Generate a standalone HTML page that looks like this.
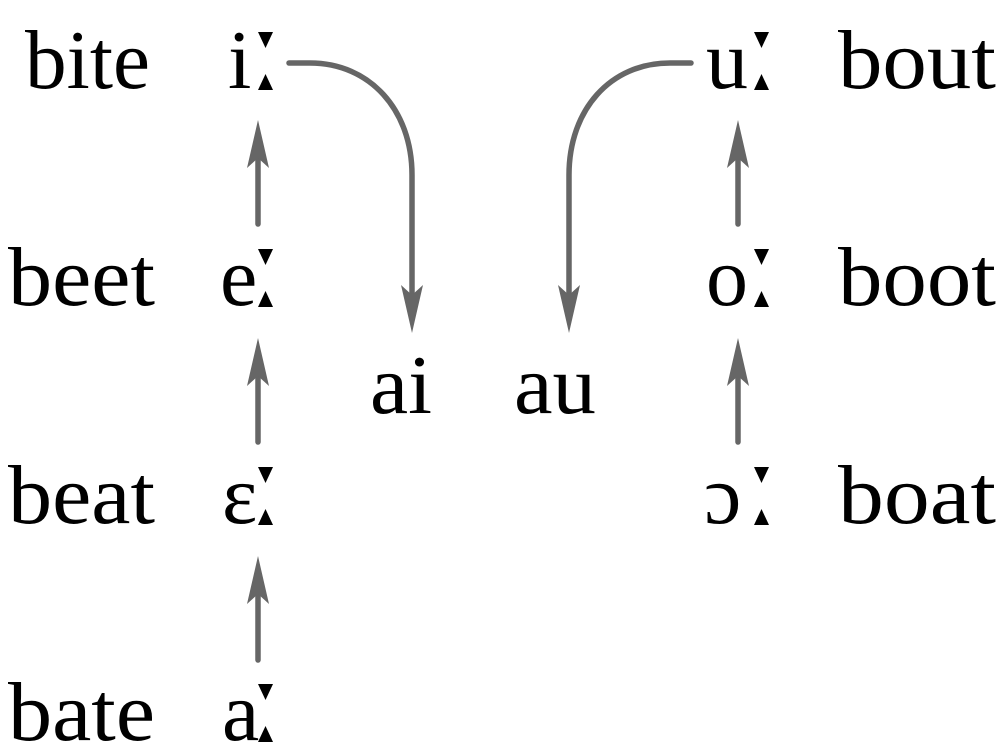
<!DOCTYPE html>
<html><head><meta charset="utf-8"><style>
html,body{margin:0;padding:0;background:#fff;}
svg{display:block;}
text{font-family:"Liberation Serif","DejaVu Serif",serif;font-size:84px;fill:#000;}
</style></head><body>
<svg width="1000" height="750" viewBox="0 0 1000 750">
<defs>
<g id="lm"><polygon points="0,0 15,0 7.5,16"/><polygon points="7.5,42 15,58 0,58"/></g>
</defs>
<g>
<text x="25" y="88" textLength="125" lengthAdjust="spacingAndGlyphs">bite</text>
<text x="8" y="305" textLength="147" lengthAdjust="spacingAndGlyphs">beet</text>
<text x="8" y="523" textLength="147" lengthAdjust="spacingAndGlyphs">beat</text>
<text x="8" y="740" textLength="147" lengthAdjust="spacingAndGlyphs">bate</text>
<text x="838" y="88" textLength="158" lengthAdjust="spacingAndGlyphs">bout</text>
<text x="838" y="305" textLength="158" lengthAdjust="spacingAndGlyphs">boot</text>
<text x="838" y="523" textLength="158" lengthAdjust="spacingAndGlyphs">boat</text>
<text x="370" y="413" textLength="62" lengthAdjust="spacingAndGlyphs">ai</text>
<text x="514" y="413" textLength="82" lengthAdjust="spacingAndGlyphs">au</text>

<text x="228" y="88">i</text>
<text x="220" y="305">e</text>
<text x="222" y="523">ɛ</text>
<text x="222" y="740">a</text>
<text x="706" y="88">u</text>
<text x="706" y="305">o</text>
<text x="704" y="523">ɔ</text>
</g>
<g fill="#000">
<use href="#lm" x="258" y="32"/>
<use href="#lm" x="258" y="249"/>
<use href="#lm" x="258" y="467"/>
<use href="#lm" x="258" y="684"/>
<use href="#lm" x="754" y="32"/>
<use href="#lm" x="754" y="249"/>
<use href="#lm" x="754" y="467"/>
</g>
<g stroke="#666" stroke-width="5.5" fill="none" stroke-linecap="round">
<line x1="258" y1="224" x2="258" y2="150"/>
<line x1="258" y1="442" x2="258" y2="368"/>
<line x1="258" y1="660" x2="258" y2="586"/>
<line x1="738" y1="224" x2="738" y2="150"/>
<line x1="738" y1="442" x2="738" y2="368"/>
<path d="M289,63 L310,63 C370,63 412,110 412,175 L412,295"/>
<path d="M691,63 L670,63 C610,63 569,110 569,175 L569,295"/>
</g>
<g fill="#666">
<polygon points="258,120 269,168 258,158 247,168"/>
<polygon points="258,338 269,386 258,376 247,386"/>
<polygon points="258,556 269,604 258,594 247,604"/>
<polygon points="738,120 749,168 738,158 727,168"/>
<polygon points="738,338 749,386 738,376 727,386"/>
<polygon points="412,333 401,285 412,295 423,285"/>
<polygon points="569,333 558,285 569,295 580,285"/>
</g>
</svg>
</body></html>
